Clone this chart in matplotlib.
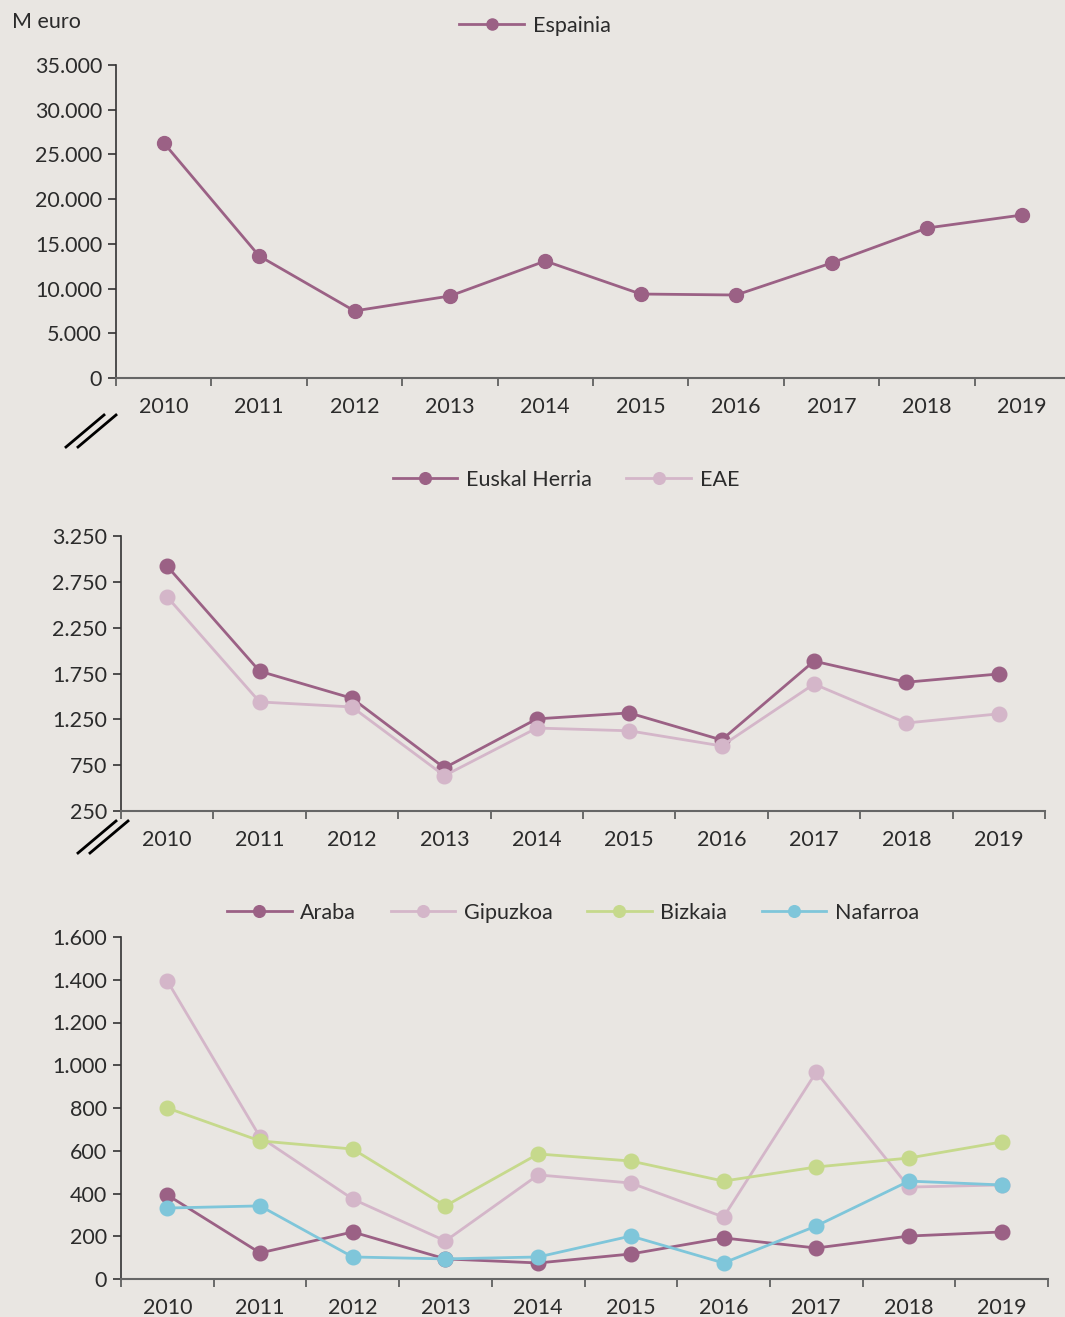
import matplotlib.pyplot as plt
from matplotlib.lines import Line2D
import numpy as np

plt.rcParams['font.family'] = ['Lato', 'DejaVu Sans']

years = ['2010', '2011', '2012', '2013', '2014', '2015', '2016', '2017', '2018', '2019']

espainia = [26300, 13650, 7500, 9170, 13080, 9390, 9280, 12860, 16770, 18230]

euskal_herria = [2920, 1775, 1480, 720, 1255, 1320, 1025, 1885, 1655, 1745]
eae = [2585, 1440, 1385, 635, 1155, 1125, 960, 1635, 1210, 1310]

araba = [393, 122, 220, 94, 75, 117, 192, 145, 201, 220]
gipuzkoa = [1394, 664, 374, 178, 487, 449, 290, 968, 430, 440]
bizkaia = [800, 646, 608, 342, 585, 552, 458, 524, 566, 641]
nafarroa = [332, 342, 103, 94, 103, 201, 75, 248, 458, 440]

y1_ticks = [0, 5000, 10000, 15000, 20000, 25000, 30000, 35000]
y2_ticks = [250, 750, 1250, 1750, 2250, 2750, 3250]
y3_ticks = [0, 200, 400, 600, 800, 1000, 1200, 1400, 1600]

c_dark = '#9b6185'
c_pink = '#d4b6c9'
c_green = '#c6d98c'
c_blue = '#7fc6da'
bg = '#e9e6e2'
txt = '#2b2b2b'
FS = 15.5


def fmt(v):
    return f'{v:,}'.replace(',', '.')


fig = plt.figure(figsize=(10.65, 13.17), dpi=100, facecolor=bg)


def setup(ax, yticks):
    ax.set_facecolor(bg)
    x = np.arange(len(years))
    ax.set_xlim(-0.5, len(years) - 0.5)
    ax.set_ylim(yticks[0], yticks[-1])
    ax.set_yticks(yticks)
    ax.set_yticklabels([fmt(v) for v in yticks])
    ax.set_xticks(x)
    ax.set_xticklabels(years)
    ax.set_xticks(np.arange(len(years) + 1) - 0.5, minor=True)
    ax.tick_params(axis='x', which='major', length=0, pad=14, labelsize=FS, labelcolor=txt)
    ax.tick_params(axis='x', which='minor', length=6, width=1.2, color='#555555', direction='out')
    ax.tick_params(axis='y', length=6, width=1.2, color='#333333', labelsize=FS, labelcolor=txt, pad=4)
    for s in ['top', 'right']:
        ax.spines[s].set_visible(False)
    ax.spines['left'].set_color('#333333')
    ax.spines['left'].set_linewidth(1.2)
    ax.spines['bottom'].set_color('#666666')
    ax.spines['bottom'].set_linewidth(1.5)
    return x


def series(ax, x, y, color, label, ms=10.5):
    ax.plot(x, y, color=color, lw=2, marker='o', ms=ms, label=label, clip_on=False)


def legend(ax, cx, cy, ncol):
    ax.legend(loc='center', bbox_to_anchor=(cx / 1065, 1 - cy / 1317), bbox_transform=fig.transFigure,
              ncol=ncol, frameon=False, fontsize=FS, handlelength=3, markerscale=0.8,
              handletextpad=0.4, columnspacing=1.6, labelcolor=txt)


# panel 1
ax1 = fig.add_axes([116 / 1065, 1 - 378 / 1317, 954 / 1065, 313 / 1317])
x = setup(ax1, y1_ticks)
series(ax1, x, espainia, c_dark, 'Espainia', ms=10)
legend(ax1, 535, 26, 1)
fig.text(12 / 1065, 1 - 22 / 1317, 'M euro', fontsize=FS, color=txt, va='center', ha='left')

# panel 2
ax2 = fig.add_axes([121 / 1065, 1 - 811 / 1317, 924 / 1065, 275 / 1317])
x = setup(ax2, y2_ticks)
series(ax2, x, euskal_herria, c_dark, 'Euskal Herria')
series(ax2, x, eae, c_pink, 'EAE')
legend(ax2, 566, 480, 2)

# panel 3
ax3 = fig.add_axes([121 / 1065, 1 - 1279 / 1317, 927 / 1065, 342 / 1317])
x = setup(ax3, y3_ticks)
series(ax3, x, araba, c_dark, 'Araba')
series(ax3, x, gipuzkoa, c_pink, 'Gipuzkoa')
series(ax3, x, bizkaia, c_green, 'Bizkaia')
series(ax3, x, nafarroa, c_blue, 'Nafarroa')
legend(ax3, 573, 913, 4)

# axis break marks
for (x0, y0) in [(66, 447), (78, 853)]:
    for dx in (0, 12):
        fig.add_artist(Line2D([(x0 + dx) / 1065, (x0 + dx + 38) / 1065],
                              [1 - y0 / 1317, 1 - (y0 - 32) / 1317],
                              color='black', lw=2, transform=fig.transFigure))

fig.savefig('out.png', dpi=100, facecolor=bg)
